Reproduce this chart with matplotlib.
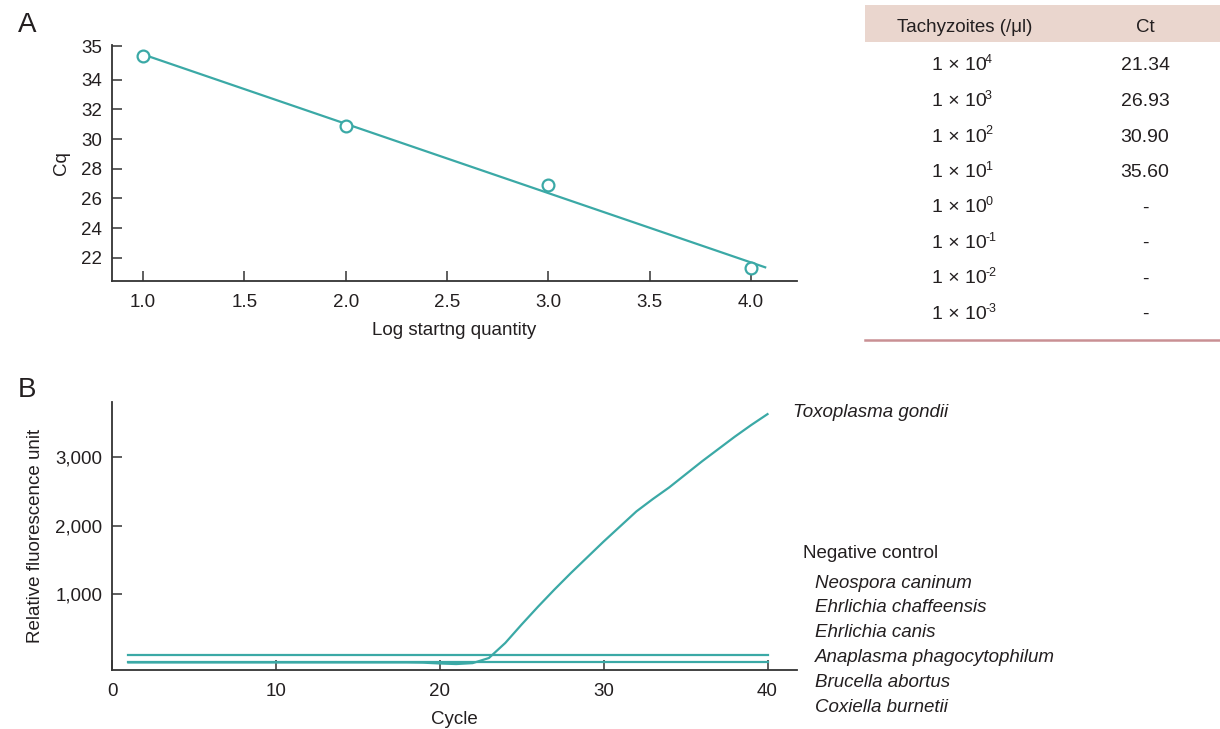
import numpy as np
import matplotlib
matplotlib.use("Agg")
import matplotlib.pyplot as plt
from matplotlib.patches import Rectangle
from matplotlib.lines import Line2D

plt.rcParams['font.family'] = ['Liberation Sans', 'DejaVu Sans']

# ---------------- data ----------------
log_qty = [1.0, 2.0, 3.0, 4.0]
cq_vals = [35.60, 30.90, 26.93, 21.34]
a_yticks = [22, 24, 26, 28, 30, 32, 34, 36.25]
a_yticklabels = ["22", "24", "26", "28", "30", "32", "34", "35"]
a_xticks = [1.0, 1.5, 2.0, 2.5, 3.0, 3.5, 4.0]

table_header = ["Tachyzoites (/\u03bcl)", "Ct"]
table_exponents = ["4", "3", "2", "1", "0", "-1", "-2", "-3"]
table_ct = ["21.34", "26.93", "30.90", "35.60", "-", "-", "-", "-"]

cycles = list(range(1, 41))
toxo_rfu = [5, 5, 5, 5, 5, 5, 5, 5, 5, 5, 5, 5, 5, 5, 5, 5, 5, 5,
            2, -10, -18, -5, 70, 290, 560, 820, 1070, 1310, 1540, 1770,
            1990, 2210, 2390, 2560, 2750, 2940, 3120, 3300, 3470, 3630]
neg_upper = 120
neg_lower = 10
b_yticks = [1000, 2000, 3000]
b_yticklabels = ["1,000", "2,000", "3,000"]
b_xticks = [0, 10, 20, 30, 40]

negative_species = ["Neospora caninum", "Ehrlichia chaffeensis", "Ehrlichia canis",
                    "Anaplasma phagocytophilum", "Brucella abortus", "Coxiella burnetii"]

TEAL = "#3BA9A6"
DARK = "#231f20"
W, H = 1220, 729
fig = plt.figure(figsize=(W / 100, H / 100), dpi=100)

def ax_rect(x0, y0, x1, y1):
    return [x0 / W, 1 - y1 / H, (x1 - x0) / W, (y1 - y0) / H]

def style(ax):
    for s in ["top", "right"]:
        ax.spines[s].set_visible(False)
    for s in ["left", "bottom"]:
        ax.spines[s].set_linewidth(1.3)
        ax.spines[s].set_color("#333333")
    ax.tick_params(direction="in", length=7, width=1.1, colors="#333333",
                   labelsize=13.5, labelcolor=DARK)
    ax.tick_params(axis="x", pad=9)
    ax.tick_params(axis="y", pad=7)

# ---------------- panel A ----------------
axA = fig.add_axes(ax_rect(112, 45, 797, 281))
style(axA)
slope, intercept = np.polyfit(log_qty, cq_vals, 1)
xf = np.array([min(log_qty), 4.07])
axA.plot(xf, slope * xf + intercept, color=TEAL, lw=1.6, zorder=2)
axA.plot(log_qty, cq_vals, linestyle="none", marker="o", markersize=8.5,
         markerfacecolor="white", markeredgecolor=TEAL, markeredgewidth=1.6, zorder=3)
axA.set_xlim(0.847, 4.227)
axA.set_ylim(20.43, 36.34)
axA.set_xticks(a_xticks)
axA.set_xticklabels([f"{v:.1f}" for v in a_xticks])
axA.set_yticks(a_yticks)
axA.set_yticklabels(a_yticklabels)
axA.set_xlabel("Log startng quantity", fontsize=13.5, color=DARK, labelpad=8)
axA.set_ylabel("Cq", fontsize=13.5, color=DARK, labelpad=8)
fig.text(18 / W, 1 - 25 / H, "A", fontsize=20, color=DARK, va="center", ha="left")

# ---------------- table ----------------
fig.patches.append(Rectangle((865 / W, 1 - 42 / H), 355 / W, 37 / H,
                             transform=fig.transFigure, facecolor="#EAD6CE",
                             edgecolor="none"))
fig.lines.append(Line2D([865 / W, 1220 / W], [1 - 340 / H, 1 - 340 / H],
                        transform=fig.transFigure, color="#C99094", lw=1.8))
col1, col2 = 965 / W, 1145 / W
fig.text(col1, 1 - 27 / H, table_header[0], fontsize=13.5, color=DARK, ha="center", va="center")
fig.text(col2, 1 - 27 / H, table_header[1], fontsize=13.5, color=DARK, ha="center", va="center")
for i, (e, ct) in enumerate(zip(table_exponents, table_ct)):
    y = 1 - (66 + i * 35.5) / H
    fig.text(col1 - 6 / W, y, "1 \u00d7 10", fontsize=14, color=DARK, ha="center", va="center")
    fig.text(col1 + 20 / W, y + 6 / H, e, fontsize=9, color=DARK, ha="left", va="center")
    fig.text(col2, y, ct, fontsize=14, color=DARK, ha="center", va="center")

# ---------------- panel B ----------------
axB = fig.add_axes(ax_rect(112, 402, 797, 670))
style(axB)
axB.plot(cycles, [neg_upper] * len(cycles), color=TEAL, lw=1.6)
axB.plot(cycles, [neg_lower] * len(cycles), color=TEAL, lw=1.6)
axB.plot(cycles, toxo_rfu, color=TEAL, lw=1.6)
axB.set_xlim(0, 41.8)
axB.set_ylim(-105, 3807)
axB.set_xticks(b_xticks)
axB.set_yticks(b_yticks)
axB.set_yticklabels(b_yticklabels)
axB.set_xlabel("Cycle", fontsize=13.5, color=DARK, labelpad=8)
axB.set_ylabel("Relative fluorescence unit", fontsize=13.5, color=DARK, labelpad=8)
fig.text(18 / W, 1 - 390 / H, "B", fontsize=20, color=DARK, va="center", ha="left")

fig.text(793 / W, 1 - 412 / H, "Toxoplasma gondii", fontsize=13.5, style="italic",
         color=DARK, ha="left", va="center")
fig.text(803 / W, 1 - 554 / H, "Negative control", fontsize=13.5,
         color=DARK, ha="left", va="center")
for i, sp in enumerate(negative_species):
    fig.text(815 / W, 1 - (583 + i * 24.8) / H, sp, fontsize=13.5, style="italic",
             color=DARK, ha="left", va="center")

fig.savefig("out.png", dpi=100, facecolor="white")
